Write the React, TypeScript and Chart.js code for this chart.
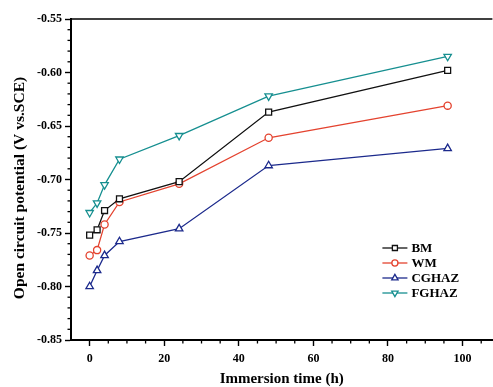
import React, { useEffect, useRef } from 'react';
import { Chart, registerables } from 'chart.js';

Chart.register(...registerables);

const times = [0, 2, 4, 8, 24, 48, 96];
const bmValues = [-0.752, -0.747, -0.729, -0.718, -0.702, -0.637, -0.598];
const wmValues = [-0.771, -0.766, -0.742, -0.721, -0.704, -0.661, -0.631];
const cghazValues = [-0.800, -0.785, -0.771, -0.758, -0.746, -0.687, -0.671];
const fghazValues = [-0.731, -0.722, -0.705, -0.681, -0.659, -0.622, -0.585];

const seriesNames = ['BM', 'WM', 'CGHAZ', 'FGHAZ'];
const xTickValues = [0, 20, 40, 60, 80, 100];
const yTickValues = [-0.85, -0.8, -0.75, -0.7, -0.65, -0.6, -0.55];
const xTitle = 'Immersion time (h)';
const yTitle = 'Open circuit potential (V vs.SCE)';

const FONT = "'Liberation Serif', 'Times New Roman', serif";
const W = 493;
const H = 387;
const CANVAS_W = 498; // Chart.js keeps ~5px on the right; extra is clipped by the wrapper

const colors = ['#111111', '#e4432f', '#1c2a8c', '#168f90'];
const styles = ['rect', 'circle', 'triangle', 'triangle'];
const rotations = [0, 0, 0, 180];
const radii = [4.2, 3.6, 4.3, 4.3];

function drawMarker(ctx: CanvasRenderingContext2D, style: string, rot: number, r: number, x: number, y: number) {
  ctx.beginPath();
  if (style === 'rect') {
    const s = r * Math.SQRT1_2;
    ctx.rect(x - s, y - s, 2 * s, 2 * s);
  } else if (style === 'circle') {
    ctx.arc(x, y, r, 0, Math.PI * 2);
  } else {
    const base = (rot * Math.PI) / 180;
    for (let i = 0; i < 3; i++) {
      const a = base - Math.PI / 2 + (i * 2 * Math.PI) / 3;
      const px = x + Math.cos(a) * r;
      const py = y + Math.sin(a) * r;
      if (i === 0) ctx.moveTo(px, py);
      else ctx.lineTo(px, py);
    }
    ctx.closePath();
  }
  ctx.fill();
  ctx.stroke();
}

const framePlugin = {
  id: 'frameAndMinor',
  afterDraw(chart: any) {
    const { ctx, chartArea, scales } = chart;
    const xs = scales.x;
    const ys = scales.y;
    ctx.save();
    ctx.strokeStyle = '#000';
    // top frame
    ctx.lineWidth = 1.6;
    ctx.beginPath();
    ctx.moveTo(chartArea.left, chartArea.top);
    ctx.lineTo(chartArea.right, chartArea.top);
    ctx.stroke();
    // minor ticks
    ctx.lineWidth = 1.3;
    for (let v = 5; v <= 105; v += 5) {
      if (v % 20 === 0) continue;
      const px = xs.getPixelForValue(v);
      ctx.beginPath();
      ctx.moveTo(px, chartArea.bottom);
      ctx.lineTo(px, chartArea.bottom + 3.5);
      ctx.stroke();
    }
    for (let i = 0; i <= 30; i++) {
      if (i % 5 === 0) continue;
      const v = -0.85 + i * 0.01;
      const py = ys.getPixelForValue(v);
      ctx.beginPath();
      ctx.moveTo(chartArea.left, py);
      ctx.lineTo(chartArea.left - 3.5, py);
      ctx.stroke();
    }
    // y title
    ctx.fillStyle = '#000';
    ctx.font = `bold 15.5px ${FONT}`;
    ctx.textAlign = 'center';
    ctx.textBaseline = 'middle';
    ctx.save();
    ctx.translate(20, (chartArea.top + chartArea.bottom) / 2 + 8.5);
    ctx.rotate(-Math.PI / 2);
    ctx.fillText(yTitle, 0, 0);
    ctx.restore();
    // x title
    ctx.font = `bold 15px ${FONT}`;
    ctx.fillText(xTitle, (chartArea.left + chartArea.right) / 2, chartArea.bottom + 39);
    // legend
    const lx = chartArea.right - 110;
    const ly = chartArea.bottom - 92;
    ctx.font = `bold 13px ${FONT}`;
    ctx.textBaseline = 'middle';
    ctx.textAlign = 'left';
    chart.data.datasets.forEach((ds: any, i: number) => {
      const y = ly + i * 15;
      ctx.strokeStyle = colors[i];
      ctx.lineWidth = 1.3;
      ctx.beginPath();
      ctx.moveTo(lx, y);
      ctx.lineTo(lx + 25, y);
      ctx.stroke();
      ctx.fillStyle = '#fff';
      drawMarker(ctx, styles[i], rotations[i], radii[i] * 0.85, lx + 12.5, y);
      ctx.fillStyle = '#000';
      ctx.fillText(ds.label, lx + 29, y + 1);
    });
    ctx.restore();
  },
};

export default function App() {
  const ref = useRef<HTMLCanvasElement>(null);
  useEffect(() => {
    if (!ref.current) return;
    const seriesValues = [bmValues, wmValues, cghazValues, fghazValues];
    const chart = new Chart(ref.current, {
      type: 'line',
      data: {
        datasets: seriesNames.map((name, i) => ({
          label: name,
          data: times.map((t, j) => ({ x: t, y: seriesValues[i][j] })),
          borderColor: colors[i],
          backgroundColor: '#ffffff',
          borderWidth: 1.3,
          pointStyle: styles[i] as any,
          pointRotation: rotations[i],
          pointRadius: radii[i],
          pointBorderWidth: 1.3,
          pointBorderColor: colors[i],
          pointBackgroundColor: '#ffffff',
          tension: 0,
          fill: false,
        })),
      },
      options: {
        responsive: false,
        animation: false,
        devicePixelRatio: 1,
        layout: { padding: { top: 19, right: 0, bottom: 0, left: 0 } },
        plugins: { legend: { display: false }, tooltip: { enabled: false } },
        scales: {
          x: {
            type: 'linear',
            min: -5,
            max: 108,
            afterBuildTicks: (s: any) => {
              s.ticks = xTickValues.map((v) => ({ value: v }));
            },
            afterFit: (s: any) => {
              s.height = 47;
            },
            border: { display: true, color: '#000', width: 2 },
            grid: { drawOnChartArea: false, color: '#000', tickLength: 6, tickWidth: 1.4 },
            ticks: {
              color: '#000',
              padding: 6,
              maxRotation: 0,
              font: { family: FONT, size: 12, weight: 'bold' },
              callback: (v: any) => String(v),
            },
            title: { display: false },
          },
          y: {
            type: 'linear',
            min: -0.85,
            max: -0.55,
            afterBuildTicks: (s: any) => {
              s.ticks = yTickValues.map((v) => ({ value: v }));
            },
            afterFit: (s: any) => {
              s.width = 71;
            },
            border: { display: true, color: '#000', width: 2 },
            grid: { drawOnChartArea: false, color: '#000', tickLength: 6, tickWidth: 1.4 },
            ticks: {
              color: '#000',
              padding: 3,
              font: { family: FONT, size: 12, weight: 'bold' },
              callback: (v: any) => Number(v).toFixed(2),
            },
            title: { display: false },
          },
        },
      },
      plugins: [framePlugin],
    });
    return () => chart.destroy();
  }, []);
  return (
    <div style={{ position: 'absolute', left: 0, top: 0, width: W, height: H, overflow: 'hidden', background: '#fff' }}>
      <canvas ref={ref} width={CANVAS_W} height={H} style={{ width: CANVAS_W, height: H, display: 'block' }} />
    </div>
  );
}
